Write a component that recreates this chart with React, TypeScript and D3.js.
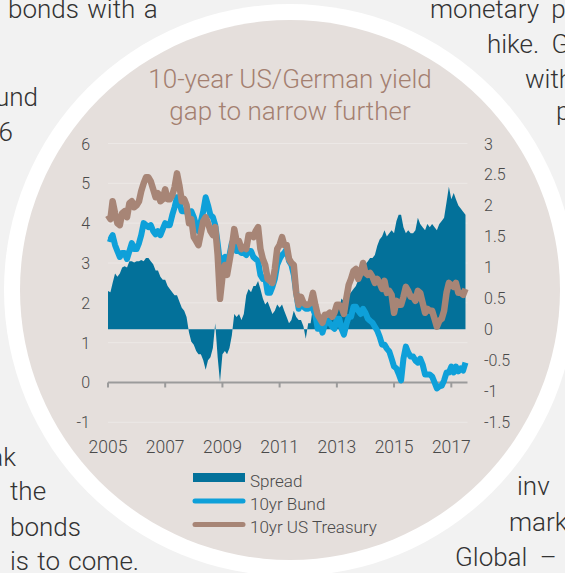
import React from 'react';
import * as d3 from 'd3';

// ---------- data ----------
const yearTicks = [2005, 2007, 2009, 2011, 2013, 2015, 2017];
const leftTicks = [6, 5, 4, 3, 2, 1, 0, -1];
const rightTicks = [3, 2.5, 2, 1.5, 1, 0.5, 0, -0.5, -1, -1.5];
const titleLines = ['10-year US/German yield', 'gap to narrow further'];
const legendLabels = ['Spread', '10yr Bund', '10yr US Treasury'];

// monthly, Jan 2005 .. Jul 2017 (left axis, %)
const ust = [
  4.20, 4.10, 4.55, 4.25, 4.00, 3.95, 4.25, 4.30, 4.15, 4.50, 4.55, 4.40,
  4.45, 4.55, 4.80, 5.00, 5.15, 5.15, 5.05, 4.85, 4.65, 4.75, 4.55, 4.60,
  4.85, 4.60, 4.60, 4.70, 4.90, 5.25, 4.95, 4.55, 4.60, 4.45, 4.00, 4.10,
  3.65, 3.55, 3.45, 3.75, 4.05, 4.15, 4.00, 3.80, 3.70, 3.90, 3.20, 2.10,
  2.65, 2.95, 2.70, 3.05, 3.40, 3.85, 3.55, 3.55, 3.35, 3.40, 3.35, 3.70,
  3.70, 3.65, 3.80, 3.90, 3.35, 3.10, 2.95, 2.60, 2.55, 2.50, 2.85, 3.35,
  3.45, 3.65, 3.45, 3.45, 3.10, 3.00, 2.95, 2.25, 1.95, 2.15, 2.00, 1.95,
  1.95, 2.00, 2.25, 1.95, 1.70, 1.60, 1.50, 1.70, 1.70, 1.75, 1.65, 1.75,
  1.95, 1.95, 1.90, 1.72, 2.10, 2.45, 2.60, 2.80, 2.85, 2.60, 2.75, 3.00,
  2.75, 2.70, 2.75, 2.65, 2.50, 2.60, 2.50, 2.35, 2.55, 2.25, 2.30, 2.20,
  1.75, 2.05, 1.95, 1.95, 2.15, 2.40, 2.30, 2.15, 2.15, 2.05, 2.30, 2.25,
  2.00, 1.75, 1.85, 1.80, 1.80, 1.60, 1.40, 1.55, 1.60, 1.80, 2.25, 2.50,
  2.45, 2.40, 2.50, 2.25, 2.25, 2.20, 2.35,
];

const bund = [
  3.62, 3.60, 3.70, 3.45, 3.30, 3.15, 3.25, 3.25, 3.10, 3.30, 3.50, 3.35,
  3.35, 3.50, 3.70, 4.00, 3.95, 3.90, 3.95, 3.80, 3.72, 3.80, 3.70, 3.85,
  4.00, 3.95, 3.95, 4.20, 4.40, 4.65, 4.50, 4.30, 4.30, 4.35, 4.10, 4.30,
  4.15, 3.95, 3.80, 4.05, 4.30, 4.65, 4.45, 4.20, 4.15, 3.95, 3.50, 3.00,
  3.10, 3.15, 3.00, 3.20, 3.50, 3.45, 3.30, 3.30, 3.25, 3.25, 3.20, 3.30,
  3.30, 3.15, 3.10, 3.05, 2.70, 2.60, 2.65, 2.25, 2.25, 2.40, 2.60, 2.95,
  3.10, 3.20, 3.25, 3.35, 3.05, 2.95, 2.70, 2.25, 1.85, 2.05, 1.90, 1.85,
  1.85, 1.90, 1.85, 1.70, 1.35, 1.50, 1.25, 1.45, 1.55, 1.50, 1.40, 1.35,
  1.60, 1.60, 1.35, 1.20, 1.45, 1.65, 1.65, 1.90, 1.90, 1.80, 1.72, 1.85,
  1.75, 1.60, 1.55, 1.50, 1.40, 1.30, 1.15, 0.95, 0.95, 0.85, 0.78, 0.60,
  0.40, 0.35, 0.22, 0.05, 0.60, 0.90, 0.75, 0.65, 0.65, 0.55, 0.50, 0.60,
  0.45, 0.20, 0.20, 0.20, 0.15, 0.00, -0.15, -0.10, -0.08, 0.05, 0.25, 0.25,
  0.40, 0.25, 0.40, 0.28, 0.35, 0.30, 0.50,
];

// right axis, percentage points
const spread = [
  0.62, 0.60, 0.75, 0.90, 0.85, 0.90, 1.00, 1.02, 1.00, 1.10, 1.10, 1.08,
  1.10, 1.10, 1.12, 1.10, 1.15, 1.15, 1.10, 1.05, 0.95, 0.95, 0.85, 0.80,
  0.80, 0.70, 0.65, 0.60, 0.55, 0.55, 0.45, 0.35, 0.30, 0.20, -0.05, -0.20,
  -0.25, -0.35, -0.40, -0.40, -0.50, -0.65, -0.50, -0.45, -0.30, 0.10, -0.45, -0.85,
  -0.40, -0.35, -0.40, -0.30, -0.10, 0.25, 0.20, 0.25, 0.15, 0.25, 0.55, 0.65,
  0.60, 0.70, 0.70, 0.78, 0.65, 0.50, 0.40, 0.45, 0.35, 0.25, 0.30, 0.40,
  0.35, 0.40, 0.30, 0.20, 0.10, 0.15, 0.30, 0.20, 0.15, 0.15, 0.05, -0.15,
  0.10, 0.10, 0.35, 0.25, 0.30, 0.15, 0.20, 0.25, 0.15, 0.25, 0.25, 0.35,
  0.35, 0.35, 0.50, 0.45, 0.55, 0.55, 0.60, 0.65, 0.70, 0.80, 0.90, 1.00,
  1.05, 1.10, 1.15, 1.15, 1.20, 1.35, 1.45, 1.50, 1.60, 1.50, 1.55, 1.60,
  1.55, 1.75, 1.85, 1.85, 1.65, 1.55, 1.60, 1.55, 1.55, 1.60, 1.80, 1.70,
  1.65, 1.60, 1.70, 1.65, 1.70, 1.65, 1.60, 1.70, 1.75, 1.80, 2.05, 2.30,
  2.10, 2.20, 2.10, 2.00, 1.95, 1.90, 1.85,
];

// surrounding article text fragments
const pageTextLeftEnd = ['und', '6', 'ak'];
const pageTextLeftStart = ['bonds with a', 'the', 'bonds', 'is to come.'];
const pageTextRight = ['monetary po', 'hike. G', 'with', 'p', 'inv', 'marke', 'Global \u2013'];

// ---------- styles ----------
const C = {
  page: '#f2f2f2',
  ring: '#ffffff',
  disc: '#e5dfdc',
  grid: '#ece8e6',
  axis: '#9b9b9b',
  label: '#4a4a4a',
  title: '#a48070',
  spread: '#03719a',
  bund: '#0ea0d9',
  ust: '#a78576',
  text: '#333333',
};
const FONT = "Roboto, 'Liberation Sans', 'DejaVu Sans', sans-serif";

export default function App() {
  const W = 565;
  const H = 573;
  const months = d3.timeMonth.range(new Date(2005, 0, 1), new Date(2017, 7, 1));
  const x = d3
    .scaleTime()
    .domain([new Date(2005, 0, 1), new Date(2017, 0, 1)])
    .range([108, 451.3]);
  const yL = d3.scaleLinear().domain([-1, 6]).range([422.3, 143.5]);
  const yR = d3.scaleLinear().domain([-1.5, 3]).range([422.3, 143.5]);

  const area = d3
    .area<number>()
    .x((_, i) => x(months[i]))
    .y0(yR(0))
    .y1((d) => yR(d));
  const line = d3
    .line<number>()
    .x((_, i) => x(months[i]))
    .y((d) => yL(d));

  const x0 = x(months[0]);
  const x1 = x(months[months.length - 1]) + 2;

  const leftEndPos = [
    { x: 38, y: 106 },
    { x: 13, y: 141 },
    { x: 16, y: 466 },
  ];
  const leftStartPos = [
    { x: 8, y: 18 },
    { x: 10, y: 500 },
    { x: 10, y: 536 },
    { x: 10, y: 570 },
  ];
  const rightPos = [
    { x: 430, y: 18 },
    { x: 487, y: 53 },
    { x: 525, y: 88 },
    { x: 556, y: 120 },
    { x: 517, y: 495 },
    { x: 509, y: 531 },
    { x: 455, y: 566 },
  ];

  return (
    <svg
      width={W}
      height={H}
      style={{ position: 'absolute', left: 0, top: 0, display: 'block' }}
      fontFamily={FONT}
    >
      <rect x={0} y={0} width={W} height={H} fill={C.page} />
      {/* article text */}
      <g fontSize={26} fontWeight={300} fill={C.text}>
        {pageTextLeftStart.map((t, i) => (
          <text key={'ls' + i} x={leftStartPos[i].x} y={leftStartPos[i].y} style={{ wordSpacing: '2px' }}>
            {t}
          </text>
        ))}
        {pageTextLeftEnd.map((t, i) => (
          <text key={'le' + i} x={leftEndPos[i].x} y={leftEndPos[i].y} textAnchor="end">
            {t}
          </text>
        ))}
        {pageTextRight.map((t, i) => (
          <text key={'r' + i} x={rightPos[i].x} y={rightPos[i].y} style={{ wordSpacing: '6px' }}>
            {t}
          </text>
        ))}
      </g>
      {/* disc */}
      <circle cx={290} cy={290} r={286} fill={C.ring} />
      <circle cx={290} cy={290} r={270} fill={C.disc} />

      {/* title */}
      <g fontSize={26} fontWeight={300} fill={C.title} textAnchor="middle">
        {titleLines.map((t, i) => (
          <text key={i} x={290} y={88 + i * 32}>
            {t}
          </text>
        ))}
      </g>

      {/* grid */}
      {leftTicks
        .filter((v) => v !== 0)
        .map((v) => (
          <line key={'g' + v} x1={x0} x2={x1} y1={yL(v)} y2={yL(v)} stroke={C.grid} strokeWidth={1} />
        ))}

      {/* tick labels */}
      <g fontSize={16} fontWeight={300} fill={C.label}>
        {leftTicks.map((v) => (
          <text key={'l' + v} x={90} y={yL(v) + 6} textAnchor="end">
            {v}
          </text>
        ))}
        {rightTicks.map((v) => (
          <text key={'r' + v} x={484} y={yR(v) + 6}>
            {v}
          </text>
        ))}
      </g>
      <g fontSize={17.5} fontWeight={300} fill={C.label} textAnchor="middle">
        {yearTicks.map((yv) => (
          <text key={'y' + yv} x={x(new Date(yv, 0, 1))} y={453}>
            {yv}
          </text>
        ))}
      </g>

      {/* spread area */}
      <path d={area(spread) || ''} fill={C.spread} />

      {/* axis */}
      <line x1={x0} x2={x1} y1={yL(0)} y2={yL(0)} stroke={C.axis} strokeWidth={2} />
      {yearTicks.map((yv) => (
        <line
          key={'t' + yv}
          x1={x(new Date(yv, 0, 1))}
          x2={x(new Date(yv, 0, 1))}
          y1={yL(0)}
          y2={yL(0) + 5}
          stroke={C.axis}
          strokeWidth={2}
        />
      ))}

      {/* lines */}
      <path d={line(bund) || ''} fill="none" stroke={C.bund} strokeWidth={6} strokeLinejoin="round" />
      <path d={line(ust) || ''} fill="none" stroke={C.ust} strokeWidth={6.5} strokeLinejoin="round" />

      {/* legend */}
      <rect x={193} y={473} width={52} height={9} fill={C.spread} />
      <line x1={195} x2={243} y1={501} y2={501} stroke={C.bund} strokeWidth={5} strokeLinecap="round" />
      <line x1={195} x2={243} y1={524.5} y2={524.5} stroke={C.ust} strokeWidth={5} strokeLinecap="round" />
      <g fontSize={17} fontWeight={300} fill={C.label}>
        {legendLabels.map((t, i) => (
          <text key={'lg' + i} x={250} y={486.5 + i * 23}>
            {t}
          </text>
        ))}
      </g>
    </svg>
  );
}
